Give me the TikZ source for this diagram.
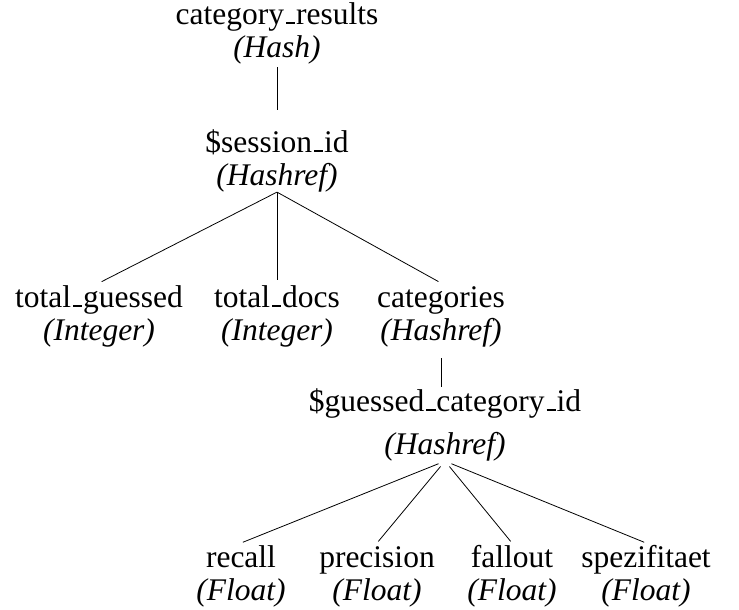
\documentclass[tikz,border=0pt]{standalone}
\usepackage{fontspec}
\setmainfont{Liberation Serif}
% short underscore sitting on the baseline
\newcommand\us{\leavevmode\kern.06em\vbox{\hrule width.3em height .06em}\kern.02em}
% fixed height for the first line, so that every block starts at the same baseline offset
\newcommand\firstline{\rule{0pt}{24pt}}
\begin{document}
\begin{tikzpicture}[x=1pt,y=-1pt,
  entry/.style={align=center,inner sep=0pt,anchor=north,
    font=\fontsize{31.5}{33}\selectfont},
  wide/.style={font=\fontsize{31.5}{43}\selectfont},
  link/.style={line width=0.8pt}]
\useasboundingbox (0,0) rectangle (739,610);

% top of the structure (north = first baseline - 24)
\node[entry] (root) at (277,0)  {\firstline category\us results\\\textit{(Hash)}};
\node[entry] (sess) at (277,128) {\firstline\$session\us id\\\textit{(Hashref)}};

% per-session fields
\node[entry] (tg)  at (99,283)  {\firstline total\us guessed\\\textit{(Integer)}};
\node[entry] (td)  at (277,283) {\firstline total\us docs\\\textit{(Integer)}};
\node[entry] (cat) at (441,283) {\firstline categories\\\textit{(Hashref)}};

% per-category values
\node[entry,wide] (gid) at (445,387) {\firstline\$guessed\us category\us id\\\textit{(Hashref)}};
\node[entry] (rec)  at (241,543) {\firstline recall\\\textit{(Float)}};
\node[entry] (prec) at (377,543) {\firstline precision\\\textit{(Float)}};
\node[entry] (fall) at (512,543) {\firstline fallout\\\textit{(Float)}};
\node[entry] (spez) at (646,543) {\firstline spezifitaet\\\textit{(Float)}};

\draw[link,shorten <=3pt,shorten >=18pt] (root.south) -- (sess.north);
\draw[link,shorten <=0pt,shorten >=3pt] (sess.south) -- (tg.north);
\draw[link,shorten <=0pt,shorten >=3pt] (sess.south) -- (td.north);
\draw[link,shorten <=0pt,shorten >=3pt] (sess.south) -- (cat.north);
\draw[link,shorten <=11pt,shorten >=0pt] (cat.south) -- (cat.south |- gid.north);
\draw[link,shorten <=7pt,shorten >=2pt] (gid.south) -- (rec.north);
\draw[link,shorten <=7pt,shorten >=2pt] (gid.south) -- (prec.north);
\draw[link,shorten <=7pt,shorten >=2pt] (gid.south) -- (fall.north);
\draw[link,shorten <=7pt,shorten >=2pt] (gid.south) -- (spez.north);
\end{tikzpicture}
\end{document}
